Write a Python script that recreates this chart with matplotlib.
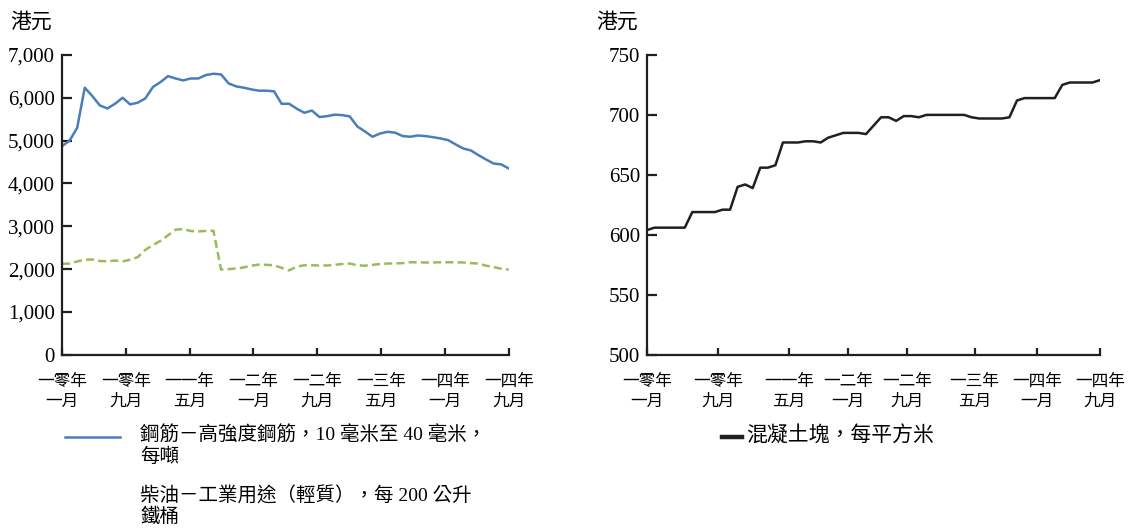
import matplotlib
matplotlib.use("Agg")
import matplotlib.pyplot as plt
from matplotlib.lines import Line2D
from matplotlib.ticker import FuncFormatter
import numpy as np

# monthly prices, HK$
rebar = [4870, 5000, 5300, 6235, 6040, 5820, 5750, 5860, 6000, 5845,
         5885, 5985, 6250, 6365, 6505, 6450, 6405, 6450, 6450, 6530,
         6560, 6545, 6335, 6265, 6235, 6195, 6165, 6165, 6150, 5860,
         5860, 5745, 5650, 5700, 5550, 5570, 5605, 5595, 5565, 5330,
         5215, 5090, 5165, 5205, 5185, 5105, 5090, 5120, 5105, 5080,
         5050, 5010, 4910, 4815, 4770, 4660, 4560, 4465, 4445, 4350]
diesel = [2125, 2130, 2180, 2220, 2225, 2190, 2180, 2200, 2180, 2220,
          2280, 2450, 2560, 2660, 2790, 2920, 2935, 2890, 2880, 2890,
          2895, 1990, 2000, 2015, 2040, 2080, 2105, 2100, 2090, 2030,
          1970, 2060, 2090, 2090, 2085, 2085, 2100, 2120, 2130, 2090,
          2080, 2100, 2120, 2130, 2135, 2140, 2160, 2160, 2155, 2155,
          2160, 2160, 2160, 2155, 2140, 2130, 2080, 2050, 2010, 1990]
concrete = [604, 606, 606, 606, 606, 606, 619, 619, 619, 619,
            621, 621, 640, 642, 639, 656, 656, 658, 677, 677,
            677, 678, 678, 677, 681, 683, 685, 685, 685, 684,
            691, 698, 698, 695, 699, 699, 698, 700, 700, 700,
            700, 700, 700, 698, 697, 697, 697, 697, 698, 712,
            714, 714, 714, 714, 714, 725, 727, 727, 727, 727, 729]

tick_labels = ["一零年\n一月", "一零年\n九月", "一一年\n五月", "一二年\n一月",
               "一二年\n九月", "一三年\n五月", "一四年\n一月", "一四年\n九月"]
left_ticks = np.linspace(0, len(rebar) - 1, 8)
right_ticks = [0, 9.4, 18.8, 26.6, 34.5, 43.4, 51.7, 60]

rebar_label = "鋼筋－高強度鋼筋，10 毫米至 40 毫米，\n每噸"
diesel_label = "柴油－工業用途（輕質），每 200 公升\n鐵桶"
concrete_label = "混凝土塊，每平方米"

plt.rcParams["font.family"] = ["Liberation Serif", "Noto Sans CJK TC"]
axis_col = "#231f20"
blue = "#4a7ebb"
green = "#9bbb59"


def style_axis(ax, ticks):
    for side in ["top", "right"]:
        ax.spines[side].set_visible(False)
    for side in ["left", "bottom"]:
        ax.spines[side].set_linewidth(1.6)
        ax.spines[side].set_color(axis_col)
    ax.set_xticks(ticks)
    ax.set_xticklabels(tick_labels, fontsize=12, linespacing=1.3)
    ax.tick_params(axis="y", direction="in", length=7.5, width=1.6,
                   pad=5, labelsize=15, color=axis_col)
    ax.tick_params(axis="x", direction="in", length=5, width=1.6,
                   pad=14, color=axis_col)


fig = plt.figure(figsize=(11.28, 5.28), dpi=100)

ax1 = fig.add_axes([0.055, 0.328, 0.396, 0.568])
x1 = np.arange(len(rebar))
ax1.plot(x1, rebar, color=blue, lw=1.8)
ax1.plot(x1, diesel, color=green, lw=1.8, linestyle=(0, (3.2, 1.7)))
ax1.set_xlim(0, len(rebar) - 1)
ax1.set_ylim(0, 7000)
ax1.set_yticks(range(0, 7001, 1000))
ax1.yaxis.set_major_formatter(FuncFormatter(lambda v, p: f"{v:,.0f}"))
style_axis(ax1, left_ticks)

ax2 = fig.add_axes([0.5736, 0.328, 0.4016, 0.568])
x2 = np.arange(len(concrete))
ax2.plot(x2, concrete, color=axis_col, lw=1.8)
ax2.set_xlim(0, len(concrete) - 1)
ax2.set_ylim(500, 750)
ax2.set_yticks(range(500, 751, 50))
style_axis(ax2, right_ticks)

# unit labels
fig.text(10 / 1128, 1 - 23 / 528, "港元", fontsize=15, va="center")
fig.text(596 / 1128, 1 - 23 / 528, "港元", fontsize=15, va="center")

# legends, laid out as in the source
fig.add_artist(Line2D([65 / 1128, 120 / 1128], [1 - 437 / 528] * 2,
                      transform=fig.transFigure, color=blue, lw=1.8))
fig.text(140 / 1128, 1 - 426 / 528, rebar_label, fontsize=14,
         va="top", linespacing=1.15)
fig.text(140 / 1128, 1 - 486 / 528, diesel_label, fontsize=14,
         va="top", linespacing=1.15)
fig.add_artist(Line2D([722 / 1128, 742 / 1128], [1 - 437 / 528] * 2,
                      transform=fig.transFigure, color=axis_col, lw=3.2))
fig.text(746 / 1128, 1 - 437 / 528, concrete_label, fontsize=15,
         va="center")

fig.savefig("out.png", dpi=100)
